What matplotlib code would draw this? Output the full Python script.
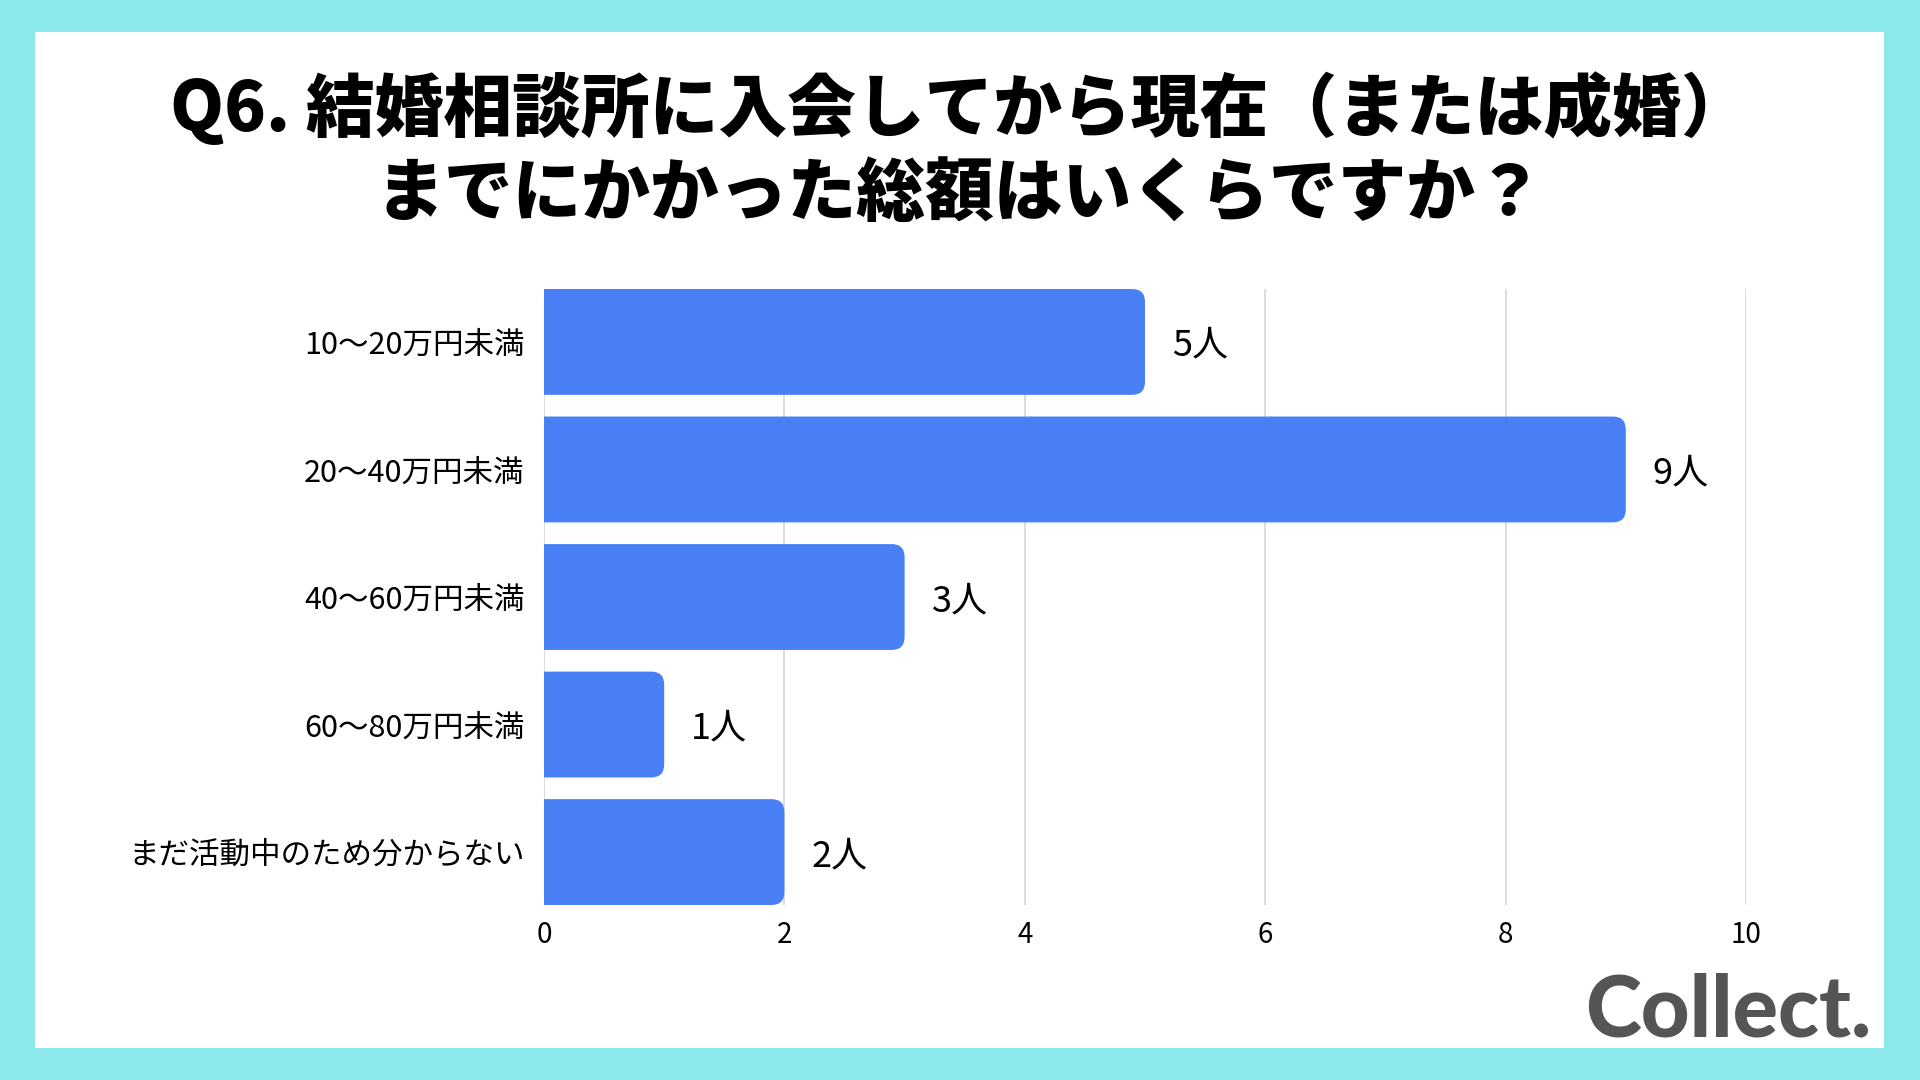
import matplotlib
matplotlib.use("Agg")
import matplotlib.pyplot as plt
from matplotlib.patches import Rectangle, PathPatch
from matplotlib.path import Path

# ===============================
# DATA
# ===============================
categories = ["10〜20万円未満", "20〜40万円未満", "40〜60万円未満",
              "60〜80万円未満", "まだ活動中のため分からない"]
counts = [5, 9, 3, 1, 2]
xticks = [0, 2, 4, 6, 8, 10]
title = "Q6. 結婚相談所に入会してから現在（または成婚）\nまでにかかった総額はいくらですか？"

plt.rcParams['font.family'] = ['Noto Sans CJK JP', 'DejaVu Sans']

BG = "#8be9ec"
BAR = "#4a80f5"

# ===============================
# FIGURE + FRAME
# ===============================
fig = plt.figure(figsize=(19.2, 10.8), dpi=100)
fig.patch.set_facecolor(BG)
fig.patches.append(Rectangle((35 / 1920, 1 - 1048 / 1080), (1884 - 35) / 1920, (1048 - 32) / 1080,
                             transform=fig.transFigure, facecolor="white", edgecolor="none", zorder=-10))

fig.text(0.5, 1 - 150 / 1080, title, ha="center", va="center", fontsize=49.5,
         fontweight="black", linespacing=1.27, color="black")

# ===============================
# BAR CHART
# ===============================
ax = fig.add_axes([544 / 1920, 1 - 905 / 1080, (1746 - 544) / 1920, (905 - 289) / 1080])
ax.set_zorder(2)
ax.set_facecolor("none")
bar_h = 0.83
bars = ax.barh(range(len(categories)), counts, height=bar_h, color=BAR, zorder=3)
ax.set_xlim(0, 10)
ax.set_ylim(len(categories) - 1 + bar_h / 2, -bar_h / 2)

# rounded right-hand corners
fig.canvas.draw()
bb = ax.get_window_extent()
px_x = bb.width / 10.0
px_y = bb.height / (len(categories) - 1 + bar_h)
r = 13
for b in bars:
    x0, y0, w, h = b.get_x(), b.get_y(), b.get_width(), b.get_height()
    rx = min(r / px_x, w / 2)
    ry = r / px_y
    x1, y1 = x0 + w, y0 + h
    verts = [(x0, y0), (x1 - rx, y0), (x1, y0), (x1, y0 + ry),
             (x1, y1 - ry), (x1, y1), (x1 - rx, y1), (x0, y1), (x0, y0)]
    codes = [Path.MOVETO, Path.LINETO, Path.CURVE3, Path.CURVE3,
             Path.LINETO, Path.CURVE3, Path.CURVE3, Path.LINETO, Path.CLOSEPOLY]
    ax.add_patch(PathPatch(Path(verts, codes), facecolor=BAR, edgecolor="none", zorder=3))
    b.set_visible(False)
    ax.text(x1 + 27 / px_x, y0 + h / 2 + 4 / px_y, f"{int(w)}人", ha="left", va="center",
            fontsize=26, color="black")

ax.set_yticks(range(len(categories)))
ax.set_yticklabels(categories, fontsize=22)
ax.set_xticks(xticks)
ax.set_xticklabels([str(t) for t in xticks], fontsize=20)
ax.tick_params(length=0, pad=14)
ax.tick_params(axis="x", pad=11)
ax.grid(axis="x", color="#d6d6d6", linewidth=1.2, zorder=0)
for s in ax.spines.values():
    s.set_visible(False)

# logo
fig.text(1871 / 1920, 1 - 1012 / 1080, "Collect.", ha="right", va="center", fontsize=61,
         fontfamily="Lato", fontweight="black", color="#555555")

fig.savefig("out.png", dpi=100, facecolor=BG)
